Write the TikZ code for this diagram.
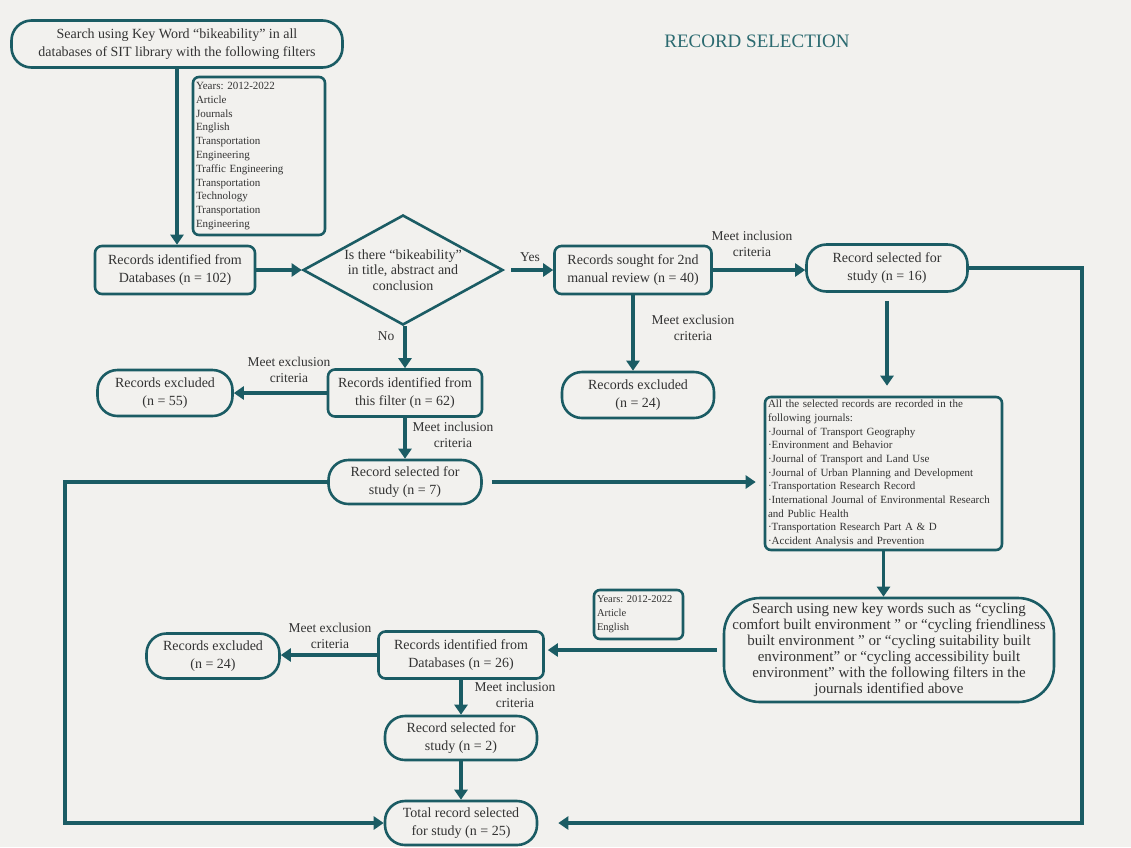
\documentclass[tikz,border=0pt]{standalone}
\usepackage{fontspec}
\setmainfont{Liberation Serif}
\usetikzlibrary{arrows.meta,shapes.geometric}
\definecolor{lineteal}{HTML}{1B5C64}
\definecolor{titleteal}{HTML}{2B6A70}
\definecolor{ink}{HTML}{333333}
\definecolor{paper}{HTML}{F2F1EE}
\frenchspacing
\begin{document}
\begin{tikzpicture}[x=1pt,y=-1pt,
  box/.style={draw=lineteal, line width=2.6pt, rounded corners=7pt, align=center,
    text=ink, font=\fontsize{14}{17.5}\selectfont, inner sep=1pt},
  pill/.style={box, rounded corners=20pt},
  listbox/.style={box, rounded corners=6pt, align=left, inner sep=3pt},
  flow/.style={draw=lineteal, line width=3.5pt, -{Triangle[length=10pt,width=13pt]}},
  lbl/.style={font=\fontsize{13.5}{15.5}\selectfont, align=center, text=ink}]
\fill[paper] (0,0) rectangle (1131,847);
\useasboundingbox (0,0) rectangle (1131,847);

% title
\node[text=titleteal, font=\fontsize{19}{21}\selectfont] (title) at (757,41) {RECORD SELECTION};

% first search
\node[pill, minimum width=331, minimum height=47, font=\fontsize{14}{18}\selectfont] (search) at (177,44)
  {Search using Key Word “bikeability” in all\\databases of SIT library with the following filters};
\node[listbox, text width=126pt, minimum height=158, font=\fontsize{11}{13.8}\selectfont] (filt) at (259,156)
  {Years: 2012-2022\\Article\\Journals\\English\\Transportation\\Engineering\\Traffic Engineering\\Transportation\\Technology\\Transportation\\Engineering};

\node[box, minimum width=160, minimum height=48] (rec102) at (175,270)
  {Records identified from\\Databases (n = 102)};
\node[diamond, draw=lineteal, line width=2.6pt, aspect=1.8, inner sep=0pt,
  minimum width=200, minimum height=110, align=center, text=ink,
  font=\fontsize{14}{15.5}\selectfont] (dia) at (403,270)
  {Is there “bikeability”\\in title, abstract and\\conclusion};

% Yes branch
\node[box, minimum width=157, minimum height=48] (sought) at (633,270)
  {Records sought for 2nd\\manual review (n = 40)};
\node[pill, minimum width=161, minimum height=47] (sel16) at (887,268)
  {Record selected for\\study (n = 16)};
\node[pill, minimum width=152, minimum height=46] (exc24a) at (638,395)
  {Records excluded\\(n = 24)};
\node[listbox, text width=231pt, minimum height=153, font=\fontsize{11}{13.7}\selectfont] (journals) at (883.5,473.5)
  {All the selected records are recorded in the\\following journals:\\·Journal of Transport Geography\\·Environment and Behavior\\·Journal of Transport and Land Use\\·Journal of Urban Planning and Development\\·Transportation Research Record\\·International Journal of Environmental Research\\and Public Health\\·Transportation Research Part A \& D\\·Accident Analysis and Prevention};

% No branch
\node[box, minimum width=154, minimum height=47] (filter62) at (405,393)
  {Records identified from\\this filter (n = 62)};
\node[pill, minimum width=135, minimum height=46] (exc55) at (165,393)
  {Records excluded\\(n = 55)};
\node[pill, minimum width=153, minimum height=44] (sel7) at (405,482)
  {Record selected for\\study (n = 7)};

% second search
\node[pill, rounded corners=36pt, minimum width=330, minimum height=104,
  font=\fontsize{15}{16}\selectfont] (newsearch) at (889,650)
  {Search using new key words such as “cycling\\comfort built environment ” or “cycling friendliness\\built environment ” or “cycling suitability built\\environment” or “cycling accessibility built\\environment” with the following filters in the\\journals identified above};
\node[listbox, text width=83pt, minimum height=49, font=\fontsize{10.5}{14}\selectfont] (filt2) at (638.5,614.5)
  {Years: 2012-2022\\Article\\English};
\node[box, minimum width=165, minimum height=47] (db26) at (461,655)
  {Records identified from\\Databases (n = 26)};
\node[pill, minimum width=133, minimum height=45] (exc24b) at (213,656)
  {Records excluded\\(n = 24)};
\node[pill, minimum width=152, minimum height=44] (sel2) at (461,738)
  {Record selected for\\study (n = 2)};
\node[pill, minimum width=152, minimum height=44] (total) at (461,823)
  {Total record selected\\for study (n = 25)};

% connectors
\draw[flow] (search.south) -- (search.south |- rec102.north);
\draw[flow] (rec102.east) -- (dia.west);
\draw[flow, shorten <=7pt] (dia.east) -- (sought.west);
\node[lbl] (yes) at (530,257) {Yes};
\draw[flow] (sought.east) -- (sought.east -| sel16.west);
\node[lbl] (inc1) at (752,244) {Meet inclusion\\criteria};
\draw[flow] (sought.south) -- (sought.south |- exc24a.north);
\node[lbl] (exc1) at (693,328) {Meet exclusion\\criteria};
\draw[flow, shorten <=8pt, shorten >=10pt] (sel16.south) -- (sel16.south |- journals.north);

\coordinate (rc) at (1082,268);
\draw[flow, shorten >=20pt] (sel16.east) -- (rc) |- (total.east);

\draw[flow] (dia.south -| filter62.north) -- (filter62.north);
\node[lbl] (no) at (386,336) {No};
\draw[flow] (filter62.west) -- (exc55.east);
\node[lbl] (exc2) at (289,370) {Meet exclusion\\criteria};
\draw[flow] (filter62.south) -- (sel7.north);
\node[lbl] (inc2) at (453,435) {Meet inclusion\\criteria};

\coordinate (lc) at (65,482);
\draw[flow] (sel7.west) -- (lc) |- (total.west);
\draw[flow, shorten <=9pt, shorten >=8pt] (sel7.east) -- (sel7.east -| journals.west);

\draw[flow] (journals.south) -- (journals.south |- newsearch.north);
\draw[flow, shorten <=6pt, shorten >=3pt] (newsearch.west) -- (newsearch.west -| db26.east);
\draw[flow] (db26.west) -- (db26.west -| exc24b.east);
\node[lbl] (exc3) at (330,636) {Meet exclusion\\criteria};
\draw[flow] (db26.south) -- (sel2.north);
\node[lbl] (inc3) at (515,695) {Meet inclusion\\criteria};
\draw[flow] (sel2.south) -- (total.north);
\end{tikzpicture}
\end{document}
